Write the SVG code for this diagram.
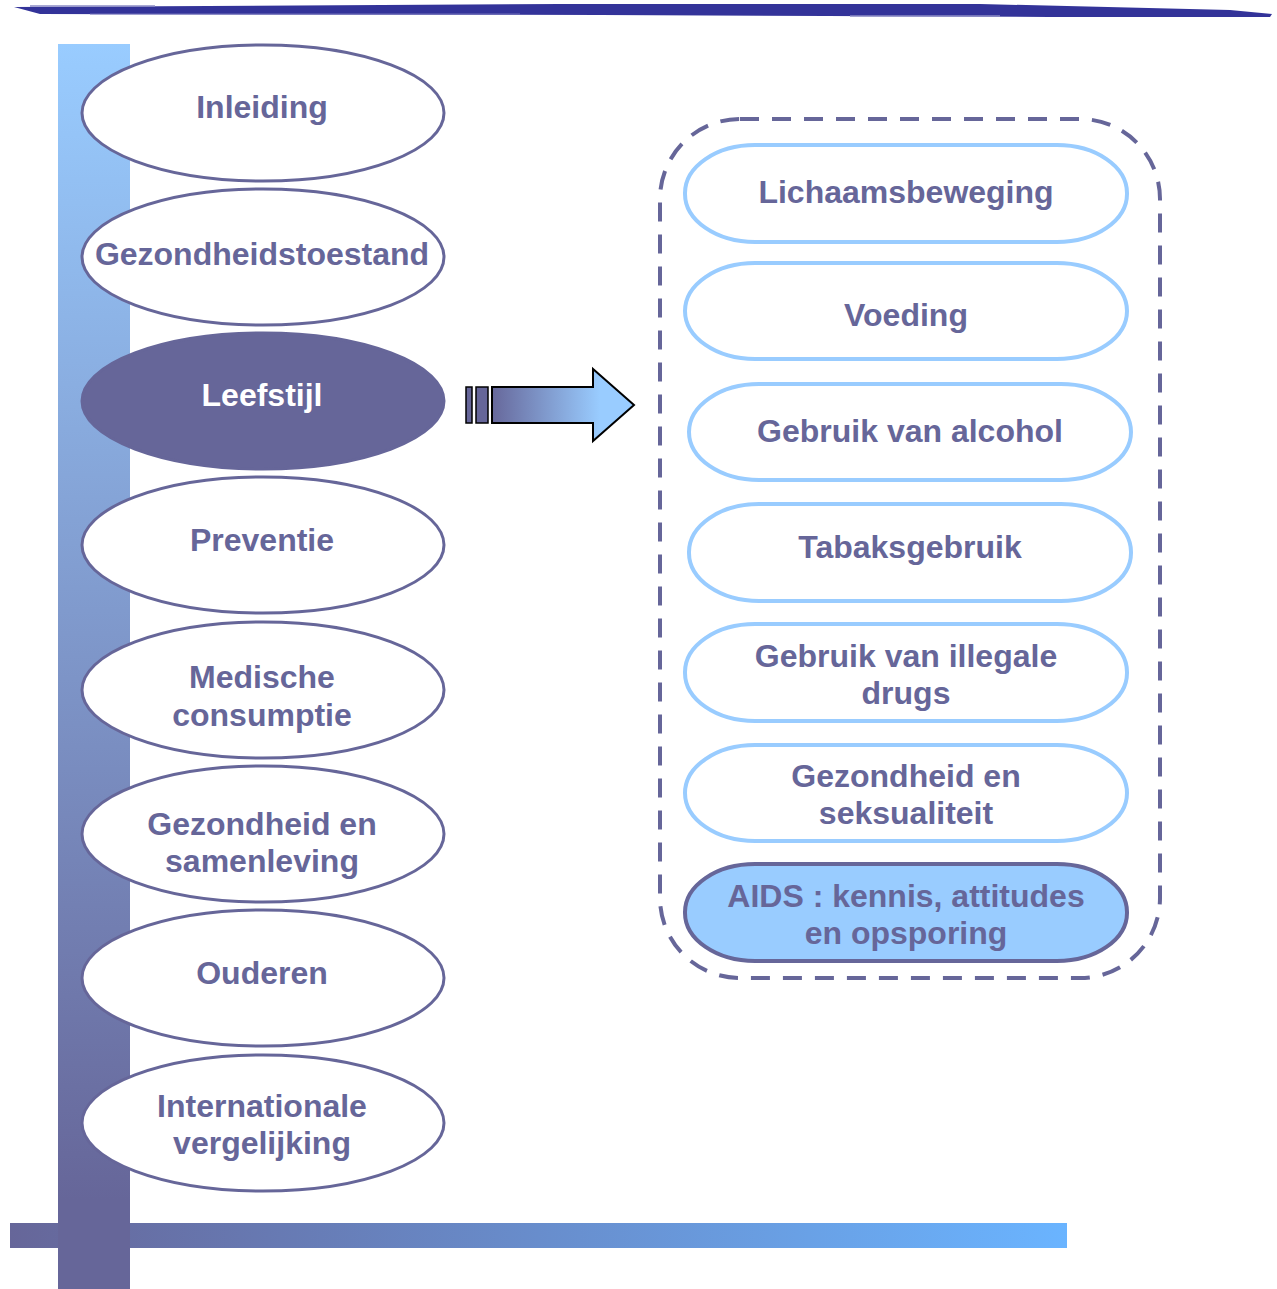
<svg xmlns="http://www.w3.org/2000/svg" width="1277" height="1289" viewBox="0 0 1277 1289">
<defs>
<linearGradient id="gV" x1="0" y1="44" x2="0" y2="1200" gradientUnits="userSpaceOnUse">
<stop offset="0" stop-color="#99CCFF"/>
<stop offset="1" stop-color="#666699"/>
</linearGradient>
<linearGradient id="gH" x1="10" y1="0" x2="1067" y2="0" gradientUnits="userSpaceOnUse">
<stop offset="0" stop-color="#666699"/>
<stop offset="1" stop-color="#6AB4FF"/>
</linearGradient>
<linearGradient id="gA" x1="490" y1="0" x2="600" y2="0" gradientUnits="userSpaceOnUse">
<stop offset="0" stop-color="#666699"/>
<stop offset="1" stop-color="#99CCFF"/>
</linearGradient>
<style>
.el{fill:#fff;stroke:#666699;stroke-width:3}
.elsel{fill:#666699;stroke:#666699;stroke-width:3}
.pill{fill:#fff;stroke:#99CCFF;stroke-width:4}
.pillsel{fill:#99CCFF;stroke:#666699;stroke-width:4}
.t{font-family:"Liberation Sans",Arial,sans-serif;font-weight:bold;font-size:32px;fill:#666699;text-anchor:middle}
.tw{fill:#fff}
</style>
</defs>
<rect width="1277" height="1289" fill="#fff"/>
<g id="topline">
<polygon points="14,7 560,4 980,4 1230,10 1272,14 1270,17 1050,17 600,15 40,14" fill="#333399"/>
<polyline points="30,6 155,6" stroke="#8c8cc6" stroke-width="1.5" fill="none"/>
<polyline points="90,14 520,14" stroke="#6f6fb8" stroke-width="1" fill="none"/>
<polyline points="850,16 1000,16" stroke="#8c8cc6" stroke-width="1.5" fill="none"/>
</g>
<g id="bars">
<rect x="10" y="1223" width="1057" height="25" fill="url(#gH)"/>
<rect x="58" y="44" width="72" height="1245" fill="url(#gV)"/>
</g>
<g id="n-inleiding"><ellipse class="el" cx="263" cy="113" rx="181" ry="68"/><text class="t" x="262" y="118">Inleiding</text></g>
<g id="n-gezondheidstoestand"><ellipse class="el" cx="263" cy="257" rx="181" ry="68"/><text class="t" x="262" y="265">Gezondheidstoestand</text></g>
<g id="n-leefstijl"><ellipse class="elsel" cx="263" cy="401" rx="181" ry="68"/><text class="t tw" x="262" y="406">Leefstijl</text></g>
<g id="n-preventie"><ellipse class="el" cx="263" cy="545" rx="181" ry="68"/><text class="t" x="262" y="551">Preventie</text></g>
<g id="n-medische"><ellipse class="el" cx="263" cy="690" rx="181" ry="68"/><text class="t" x="262" y="688">Medische</text><text class="t" x="262" y="726">consumptie</text></g>
<g id="n-samenleving"><ellipse class="el" cx="263" cy="834" rx="181" ry="68"/><text class="t" x="262" y="835">Gezondheid en</text><text class="t" x="262" y="872">samenleving</text></g>
<g id="n-ouderen"><ellipse class="el" cx="263" cy="978" rx="181" ry="68"/><text class="t" x="262" y="984">Ouderen</text></g>
<g id="n-internationale"><ellipse class="el" cx="263" cy="1123" rx="181" ry="68"/><text class="t" x="262" y="1117">Internationale</text><text class="t" x="262" y="1154">vergelijking</text></g>
<g id="connectors">
<rect x="466" y="387" width="6" height="36" fill="#666699" stroke="#000" stroke-width="1.5"/>
<rect x="476" y="387" width="12" height="36" fill="#666699" stroke="#000" stroke-width="1.5"/>
<polygon points="492,387 593,387 593,369 634,405 593,441 593,423 492,423" fill="url(#gA)" stroke="#000" stroke-width="2"/>
</g>
<g id="group-box">
<rect x="660" y="119" width="500" height="859" rx="80" ry="80" fill="none" stroke="#666699" stroke-width="4" stroke-dasharray="19 13"/>
</g>
<g id="n-lichaamsbeweging"><rect class="pill" x="685" y="145" width="442" height="97" rx="70" ry="48"/><text class="t" x="906" y="203">Lichaamsbeweging</text></g>
<g id="n-voeding"><rect class="pill" x="685" y="263" width="442" height="96" rx="70" ry="48"/><text class="t" x="906" y="326">Voeding</text></g>
<g id="n-alcohol"><rect class="pill" x="689" y="384" width="442" height="96" rx="70" ry="48"/><text class="t" x="910" y="442">Gebruik van alcohol</text></g>
<g id="n-tabak"><rect class="pill" x="689" y="504" width="442" height="97" rx="70" ry="48"/><text class="t" x="910" y="558">Tabaksgebruik</text></g>
<g id="n-drugs"><rect class="pill" x="685" y="624" width="442" height="97" rx="70" ry="48"/><text class="t" x="906" y="667">Gebruik van illegale</text><text class="t" x="906" y="704">drugs</text></g>
<g id="n-seksualiteit"><rect class="pill" x="685" y="745" width="442" height="96" rx="70" ry="48"/><text class="t" x="906" y="787">Gezondheid en</text><text class="t" x="906" y="824">seksualiteit</text></g>
<g id="n-aids"><rect class="pillsel" x="685" y="864" width="442" height="97" rx="70" ry="48"/><text class="t" x="906" y="907">AIDS : kennis, attitudes</text><text class="t" x="906" y="944">en opsporing</text></g>
</svg>
